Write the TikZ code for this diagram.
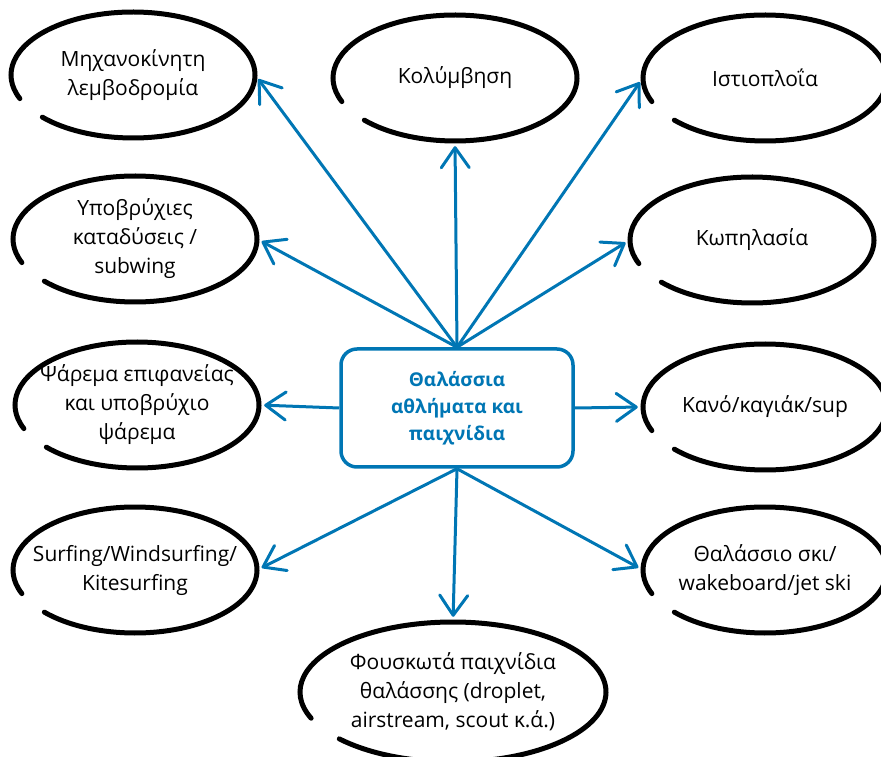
\documentclass[tikz,border=0pt]{standalone}
\usepackage{fontspec}
\setmainfont{Open Sans}
\usetikzlibrary{arrows.meta}
\definecolor{seablue}{RGB}{0,118,180}

\begin{document}
\begin{tikzpicture}[x=1pt, y=1pt,
    sport/.style={minimum width=244pt, minimum height=126pt, inner sep=0pt,
      align=center, font=\fontsize{21}{29}\selectfont},
    rim/.style={line width=5pt, line cap=round},
    hub/.style={draw=seablue, line width=3.5pt, rounded corners=16pt,
      minimum width=232pt, minimum height=118pt, align=center, text=seablue,
      font=\bfseries\fontsize{19}{27}\selectfont},
    link/.style={seablue, line width=3pt, shorten >=5pt,
      -{Straight Barb[length=20pt, width=28pt, round]}}]
          \useasboundingbox (0,0) rectangle (881,756);

          % Centre
          \node[hub] (sea) at (457,348) {Θαλάσσια\\αθλήματα και\\παιχνίδια};

          % Sports
          \node[sport] (motor) at (133,681) {Μηχανοκίνητη\\λεμβοδρομία};
          \node[sport] (swim) at (455,678) {Κολύμβηση};
          \node[sport] (sail) at (765,678) {Ιστιοπλοΐα};
          \node[sport] (dive) at (135,517) {Υποβρύχιες\\καταδύσεις /\\subwing};
          \node[sport] (row) at (752,516) {Κωπηλασία};
          \node[sport] (fish) at (137,351) {Ψάρεμα επιφανείας\\και υποβρύχιο\\ψάρεμα};
          \node[sport] (canoe) at (765,349) {Κανό/καγιάκ/sup};
          \node[sport] (surf) at (135,186) {Surfing/Windsurfing/\\Kitesurfing};
          \node[sport] (ski) at (765,186) {Θαλάσσιο σκι/\\wakeboard/jet ski};
          \node[sport, minimum width=306pt, minimum height=140pt] (toys) at (453,64)
            {Φουσκωτά παιχνίδια\\θαλάσσης (droplet,\\airstream, scout κ.ά.)};

          % Hand-drawn rims
          \draw[rim] (motor.center) ++(222:122pt and 63pt) arc[start angle=222, end angle=562, x radius=122pt, y radius=63pt];
          \draw[rim] (swim.center) ++(222:122pt and 63pt) arc[start angle=222, end angle=562, x radius=122pt, y radius=63pt];
          \draw[rim] (sail.center) ++(222:122pt and 63pt) arc[start angle=222, end angle=562, x radius=122pt, y radius=63pt];
          \draw[rim] (dive.center) ++(222:122pt and 63pt) arc[start angle=222, end angle=562, x radius=122pt, y radius=63pt];
          \draw[rim] (row.center) ++(222:122pt and 63pt) arc[start angle=222, end angle=562, x radius=122pt, y radius=63pt];
          \draw[rim] (fish.center) ++(222:122pt and 63pt) arc[start angle=222, end angle=562, x radius=122pt, y radius=63pt];
          \draw[rim] (canoe.center) ++(222:122pt and 63pt) arc[start angle=222, end angle=562, x radius=122pt, y radius=63pt];
          \draw[rim] (surf.center) ++(222:122pt and 63pt) arc[start angle=222, end angle=562, x radius=122pt, y radius=63pt];
          \draw[rim] (ski.center) ++(222:122pt and 63pt) arc[start angle=222, end angle=562, x radius=122pt, y radius=63pt];
          \draw[rim] (toys.center) ++(222:153pt and 70pt) arc[start angle=222, end angle=562, x radius=153pt, y radius=70pt];

          % Arrows
          \draw[link] (sea.north) -- (motor.east);
          \draw[link] (sea.north) -- (swim.south);
          \draw[link] (sea.north) -- (sail.west);
          \draw[link] (sea.north) -- (dive.east);
          \draw[link] (sea.north) -- (row.west);
          \draw[link] (sea.west) -- (fish.east);
          \draw[link] (sea.east) -- (canoe.west);
          \draw[link] (sea.south) -- (surf.east);
          \draw[link] (sea.south) -- (toys.north);
          \draw[link] (sea.south) -- (ski.west);
        \end{tikzpicture}
\end{document}
